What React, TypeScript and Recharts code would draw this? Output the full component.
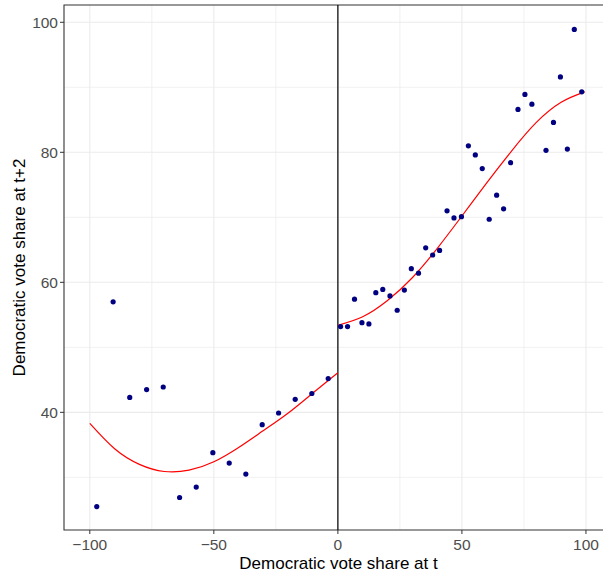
import React from "react";
import {
  ComposedChart,
  Scatter,
  Line,
  XAxis,
  YAxis,
  CartesianGrid,
  ReferenceLine,
  ReferenceArea,
} from "recharts";

// margin (t) and vote share at t+2, left of the cutoff
const leftX = [-97.2, -90.6, -83.9, -77.1, -70.4, -63.8, -57.1, -50.4, -43.8, -37.1, -30.5, -23.9, -17.2, -10.5, -3.9];
const leftY = [25.5, 57.0, 42.3, 43.5, 43.9, 26.9, 28.5, 33.8, 32.2, 30.5, 38.1, 39.9, 42.0, 42.9, 45.2];

// right of the cutoff
const rightX = [
  1.1, 3.9, 6.7, 9.7, 12.5, 15.3, 18.1, 21.0, 23.9, 26.8, 29.6, 32.5, 35.4, 38.2, 41.0, 44.0, 46.8,
  49.8, 52.6, 55.4, 58.2, 61.0, 64.0, 66.8, 69.6, 72.6, 75.4, 78.2, 83.9, 86.9, 89.7, 92.5, 95.3, 98.3,
];
const rightY = [
  53.2, 53.2, 57.4, 53.8, 53.6, 58.4, 58.9, 57.9, 55.7, 58.8, 62.1, 61.4, 65.3, 64.2, 64.9, 71.0, 69.9,
  70.1, 81.0, 79.6, 77.5, 69.7, 73.4, 71.3, 78.4, 86.6, 88.9, 87.4, 80.3, 84.6, 91.6, 80.5, 98.9, 89.3,
];

// fitted curves
const fitLeftX = [-100, -90, -80, -70, -60, -50, -40, -30, -20, -10, 0];
const fitLeftY = [38.3, 34.4, 32.0, 30.9, 31.1, 32.4, 34.6, 37.2, 39.9, 43.0, 46.1];
const fitRightX = [0, 10, 20, 30, 40, 50, 60, 70, 80, 90, 99.5];
const fitRightY = [53.4, 54.7, 57.2, 60.7, 65.2, 70.2, 75.3, 80.2, 84.6, 87.7, 89.3];

const xTicks = [-100, -50, 0, 50, 100];
const yTicks = [40, 60, 80, 100];
const xMinor = [-75, -25, 25, 75];
const yMinor = [30, 50, 70, 90];

const toPts = (xs: number[], ys: number[]) => xs.map((x, i) => ({ x, y: ys[i] }));
const points = [...toPts(leftX, leftY), ...toPts(rightX, rightY)];
const fitLeft = toPts(fitLeftX, fitLeftY);
const fitRight = toPts(fitRightX, fitRightY);

const X_DOM: [number, number] = [-110.4, 110.9];
const Y_DOM: [number, number] = [21.9, 102.66];

const fmt = (v: number) => (v < 0 ? `\u2212${Math.abs(v)}` : `${v}`);
const tickStyle = { fill: "#4d4d4d", fontSize: 15.5 };

const YTitle = (props: any) => {
  const vb = props.viewBox;
  const cx = 25;
  const cy = vb.y + vb.height / 2;
  return (
    <text x={cx} y={cy} transform={`rotate(-90, ${cx}, ${cy})`} textAnchor="middle" fontSize={17} fill="#000">
      Democratic vote share at t+2
    </text>
  );
};

export default function App() {
  return (
    <div style={{ position: "absolute", left: 0, top: 0, width: 603, height: 575, overflow: "hidden", background: "#fff" }}>
      <ComposedChart
        width={613}
        height={575}
        margin={{ top: 5, right: 0, bottom: 0, left: 0 }}
        style={{ fontFamily: "'Liberation Sans', Arial, sans-serif" }}
      >
        <CartesianGrid stroke="#ebebeb" strokeWidth={0.7} horizontalValues={yMinor} verticalValues={xMinor} />
        <CartesianGrid stroke="#ebebeb" strokeWidth={1.1} horizontalValues={yTicks} verticalValues={xTicks} />
        <XAxis
          type="number"
          dataKey="x"
          domain={X_DOM}
          allowDataOverflow
          ticks={xTicks}
          tickFormatter={fmt}
          height={45}
          tickSize={4}
          tickMargin={5}
          tick={tickStyle}
          tickLine={{ stroke: "#333" }}
          axisLine={false}
          label={{ value: "Democratic vote share at t", position: "insideBottom", offset: 6, fontSize: 17, fill: "#000" }}
        />
        <YAxis
          type="number"
          dataKey="y"
          domain={Y_DOM}
          allowDataOverflow
          ticks={yTicks}
          width={64}
          tickSize={4}
          tickMargin={2}
          tick={tickStyle}
          tickLine={{ stroke: "#333" }}
          axisLine={false}
          label={<YTitle />}
        />
        <ReferenceLine x={0} stroke="#000" strokeWidth={1.2} />
        <ReferenceArea x1={X_DOM[0]} x2={X_DOM[1]} y1={Y_DOM[0]} y2={Y_DOM[1]} fill="none" stroke="#333" strokeWidth={1.1} />
        <Line data={fitLeft} dataKey="y" type="natural" stroke="#ff0000" strokeWidth={1.2} dot={false} isAnimationActive={false} />
        <Line data={fitRight} dataKey="y" type="natural" stroke="#ff0000" strokeWidth={1.2} dot={false} isAnimationActive={false} />
        <Scatter data={points} fill="#000080" shape={(p: any) => <circle cx={p.cx} cy={p.cy} r={2.6} fill="#000080" />} isAnimationActive={false} />
      </ComposedChart>
    </div>
  );
}
